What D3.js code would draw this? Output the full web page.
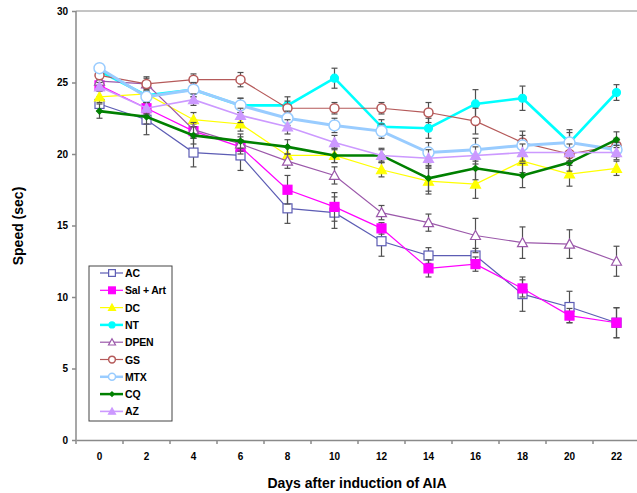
<!DOCTYPE html>
<html><head><meta charset="utf-8">
<script src="https://cdn.jsdelivr.net/npm/d3@7"></script>
<style>body{margin:0;background:#fff}svg{display:block}</style>
</head><body><svg id="c" width="637" height="493"></svg>
<script>
const days = ["0","2","4","6","8","10","12","14","16","18","20","22"];
const yTicks = [0,5,10,15,20,25,30];
const seriesNames = ["AC","Sal + Art","DC","NT","DPEN","GS","MTX","CQ","AZ"];
const AC    = [23.5,22.4,20.1,19.9,16.2,15.9,13.9,12.9,12.9,10.2,9.3,8.2];
const SalArt= [24.8,23.2,21.6,20.5,17.5,16.3,14.8,12.0,12.3,10.6,8.7,8.2];
const DC    = [24.0,24.2,22.4,22.1,19.9,19.9,18.9,18.1,17.9,19.5,18.6,19.0];
const NT    = [25.8,24.1,24.5,23.4,23.4,25.3,21.9,21.8,23.5,23.9,20.8,24.3];
const DPEN  = [25.1,24.9,21.7,20.7,19.5,18.5,15.9,15.2,14.3,13.8,13.7,12.5];
const GS    = [25.5,24.9,25.2,25.2,23.2,23.2,23.2,22.9,22.3,20.8,20.0,20.6];
const MTX   = [26.0,24.0,24.5,23.4,22.5,22.0,21.6,20.1,20.3,20.6,20.8,20.3];
const CQ    = [23.0,22.6,21.3,20.9,20.5,19.9,19.9,18.3,19.0,18.5,19.4,21.0];
const AZ    = [24.7,23.2,23.8,22.7,21.9,20.8,19.9,19.7,19.9,20.1,20.1,20.1];
const errAC    = [0.5,1.05,1.0,1.05,1.05,1.1,1.05,0.55,0.5,1.2,1.1,1.05];
const errSalArt= [0.3,0.4,0.5,0.5,1.0,1.0,0.4,0.6,0.5,0.6,0.5,1.05];
const errDC    = [0.4,0.4,0.5,0.5,0.6,0.5,0.5,0.9,1.0,0.8,0.85,0.5];
const errNT    = [0.3,0.5,0.5,0.5,0.6,0.7,0.5,0.7,1.0,0.85,0.9,0.55];
const errDPEN  = [0.3,0.4,0.5,0.5,0.5,0.6,0.5,0.6,1.2,1.1,1.0,1.05];
const errGS    = [0.3,0.5,0.4,0.5,0.5,0.4,0.4,0.7,0.9,0.8,0.8,0.5];
const errMTX   = [0.3,0.4,0.5,0.5,0.5,0.5,0.5,0.7,0.8,0.7,0.7,0.5];
const errCQ    = [0.5,0.5,0.6,0.5,0.5,0.5,0.5,0.9,0.8,0.85,0.6,0.55];
const errAZ    = [0.3,0.4,0.4,0.5,0.5,0.5,0.4,0.6,0.6,0.6,0.6,0.5];

const series = [
  {name:seriesNames[0], v:AC, e:errAC, color:"#5c5cb4", w:1.2, m:"square", fill:"#fff", size:9},
  {name:seriesNames[1], v:SalArt, e:errSalArt, color:"#ff00ff", w:1.2, m:"square", fill:"#ff00ff", size:9},
  {name:seriesNames[2], v:DC, e:errDC, color:"#ffff00", w:1.2, m:"triangle", fill:"#ffff00", size:10},
  {name:seriesNames[3], v:NT, e:errNT, color:"#00ffff", w:2.6, m:"circle", fill:"#00ffff", size:8},
  {name:seriesNames[4], v:DPEN, e:errDPEN, color:"#9b58aa", w:1.2, m:"triangle", fill:"#fff", size:10},
  {name:seriesNames[5], v:GS, e:errGS, color:"#b55a5a", w:1.2, m:"circle", fill:"#fff", size:9},
  {name:seriesNames[6], v:MTX, e:errMTX, color:"#99ccff", w:3, m:"circle", fill:"#fff", size:11},
  {name:seriesNames[7], v:CQ, e:errCQ, color:"#008000", w:2.6, m:"diamond", fill:"#008000", size:6},
  {name:seriesNames[8], v:AZ, e:errAZ, color:"#cc99ff", w:1.6, m:"triangle", fill:"#cc99ff", size:10}
];

const svg = d3.select("#c");
const x = d3.scaleBand().domain(days).range([76,640]).padding(0);
const y = d3.scaleLinear().domain([0,30]).range([440,11]);
const cx = d => x(d) + x.bandwidth()/2;
const font = "Liberation Sans, Arial, sans-serif";

svg.append("line").attr("x1",76).attr("x2",640).attr("y1",y(30)).attr("y2",y(30))
  .attr("stroke","#8a8a8a").attr("stroke-width",1);

const ya = svg.append("g").attr("transform","translate(76,0)")
  .call(d3.axisLeft(y).tickValues(yTicks).tickSize(4).tickPadding(4));
ya.selectAll("path,line").attr("stroke","#8a8a8a").attr("stroke-width",1.5);
ya.select(".domain").attr("d","M0,"+y(30)+"V"+y(0));
ya.selectAll("text").attr("font-family",font).attr("font-weight","bold").attr("font-size",10).attr("fill","#000");

const xa = svg.append("g").attr("transform","translate(0,440)")
  .call(d3.axisBottom(x).tickSize(0).tickPadding(13));
xa.select(".domain").attr("stroke","#8a8a8a").attr("stroke-width",1.5);
xa.selectAll("text").attr("font-family",font).attr("font-weight","bold").attr("font-size",10).attr("fill","#000");
xa.selectAll(".bt").data(days).enter().append("line").attr("class","bt")
  .attr("x1",d=>x(d)).attr("x2",d=>x(d)).attr("y1",0).attr("y2",4)
  .attr("stroke","#8a8a8a").attr("stroke-width",1.5);

svg.append("text").attr("transform","translate(23,226) rotate(-90)").attr("text-anchor","middle")
  .attr("font-family",font).attr("font-weight","bold").attr("font-size",14).text("Speed (sec)");
svg.append("text").attr("x",357).attr("y",488).attr("text-anchor","middle")
  .attr("font-family",font).attr("font-weight","bold").attr("font-size",14).text("Days after induction of AIA");

function marker(g, s, px, py, sz) {
  const h = sz/2;
  let el;
  if (s.m === "square") el = g.append("rect").attr("x",px-h).attr("y",py-h).attr("width",sz).attr("height",sz);
  else if (s.m === "circle") el = g.append("circle").attr("cx",px).attr("cy",py).attr("r",h);
  else if (s.m === "triangle") el = g.append("path").attr("d",`M${px},${py-h}L${px+h},${py+h*0.8}L${px-h},${py+h*0.8}Z`);
  else el = g.append("path").attr("d",`M${px},${py-h}L${px+h},${py}L${px},${py+h}L${px-h},${py}Z`);
  el.attr("fill",s.fill).attr("stroke",s.color).attr("stroke-width",s.m==="circle"&&s.fill==="#fff"?1.5:1.2);
}

const line = d3.line().x((d,i)=>cx(days[i])).y(d=>y(d));
series.forEach(s => {
  const g = svg.append("g");
  s.v.forEach((v,i) => {
    const px = cx(days[i]);
    const e = s.e[i];
    g.append("line").attr("x1",px).attr("x2",px).attr("y1",y(v+e)).attr("y2",y(v-e)).attr("stroke","#505050").attr("stroke-width",1.2);
    [v+e, v-e].forEach(t => g.append("line").attr("x1",px-3).attr("x2",px+3).attr("y1",y(t)).attr("y2",y(t)).attr("stroke","#505050").attr("stroke-width",1.2));
  });
  g.append("path").attr("d",line(s.v)).attr("fill","none").attr("stroke",s.color).attr("stroke-width",s.w);
  s.v.forEach((v,i) => marker(g, s, cx(days[i]), y(v), s.size));
});

const lg = svg.append("g");
lg.append("rect").attr("x",89).attr("y",266).attr("width",83).attr("height",155)
  .attr("fill","#fff").attr("stroke","#444").attr("stroke-width",1);
series.forEach((s,i) => {
  const ly = 273 + i*17.3;
  lg.append("line").attr("x1",100).attr("x2",123).attr("y1",ly).attr("y2",ly).attr("stroke",s.color).attr("stroke-width",Math.min(s.w,2.5));
  marker(lg, s, 112, ly, Math.min(s.size*0.75, 7));
  lg.append("text").attr("x",125).attr("y",ly+4).attr("font-family",font).attr("font-weight","bold")
    .attr("font-size",10.5).attr("letter-spacing","-0.2").text(s.name);
});
</script></body></html>
